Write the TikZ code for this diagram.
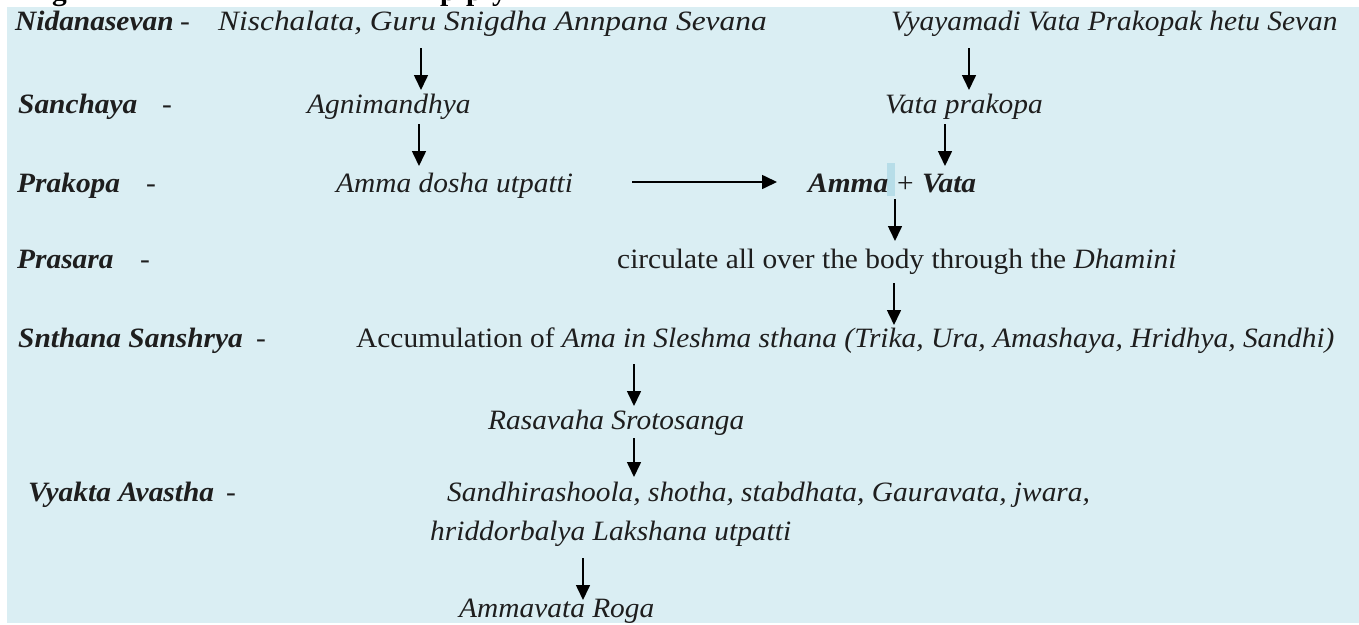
\documentclass[tikz,border=0pt]{standalone}
\usepackage{fontspec}
\usepackage{graphicx}
\setmainfont{Liberation Serif}[FakeStretch=1.05]
\usetikzlibrary{arrows.meta}
\definecolor{bgblue}{HTML}{DAEEF3}
\definecolor{hlblue}{HTML}{B7DDE8}
\definecolor{ink}{HTML}{1E1E1E}
\tikzset{
  base/.style={anchor=base west,inner sep=0pt,text=ink},
  lbl/.style={base,font=\fontsize{28}{32}\selectfont\bfseries\itshape},
  itx/.style={base,font=\fontsize{28}{32}\selectfont\itshape},
  rtx/.style={base,font=\fontsize{28}{32}\selectfont},
  ttl/.style={base,text=black,font=\fontsize{28}{32}\selectfont\bfseries},
  arr/.style={line width=1.6pt,black,-{Triangle[length=15pt,width=14pt]}}
}
\begin{document}
\begin{tikzpicture}[x=1pt,y=-1pt]
\useasboundingbox (0,0) rectangle (1359,624);
\fill[white] (0,0) rectangle (1359,624);
\fill[bgblue] (7,7) rectangle (1359,623);
% cut-off title descenders
\begin{scope}
\clip (0,0) rectangle (1359,7);
\node[ttl] (tg) at (52,0) {g};
\node[ttl] (tp1) at (440,0) {p};
\node[ttl] (tp2) at (466,0) {p};
\node[ttl] (ty) at (492,0) {y};
\end{scope}
% highlight
\fill[hlblue] (887,163) rectangle (895,196);
% row 1
\node[lbl] (l1) at (15,30) {Nidanasevan};
\node[rtx] (d1) at (180,30) {-};
\node[itx] (nis) at (218,30) {\scalebox{1.068}[1]{Nischalata, Guru Snigdha Annpana Sevana}};
\node[itx] (vya) at (891,30) {Vyayamadi Vata Prakopak hetu Sevan};
% row 2
\node[lbl] (l2) at (18,113) {Sanchaya};
\node[rtx] (d2) at (162,113) {-};
\node[itx] (agni) at (307,113) {Agnimandhya};
\node[itx] (vp) at (885,113) {Vata prakopa};
% row 3
\node[lbl] (l3) at (17,192) {Prakopa};
\node[rtx] (d3) at (146,192) {-};
\node[itx] (amd) at (336,192) {Amma dosha utpatti};
\node[lbl] (amma) at (808,192) {Amma};
\node[rtx] (plus) at (897,192) {+};
\node[lbl] (vata) at (922,192) {Vata};
% row 4
\node[lbl] (l4) at (17,268) {Prasara};
\node[rtx] (d4) at (140,268) {-};
\node[rtx] (circ) at (617,268) {circulate all over the body through the \textit{Dhamini}};
% row 5
\node[lbl] (l5) at (18,347) {Snthana Sanshrya};
\node[rtx] (d5) at (256,347) {-};
\node[rtx] (acc) at (356,347) {Accumulation of \textit{Ama in Sleshma sthana (Trika, Ura, Amashaya, Hridhya, Sandhi)}};
% row 6
\node[itx] (ras) at (488,429) {Rasavaha Srotosanga};
% row 7
\node[lbl] (l7) at (28,501) {Vyakta Avastha};
\node[rtx] (d7) at (226,501) {-};
\node[itx] (san) at (447,501) {Sandhirashoola, shotha, stabdhata, Gauravata, jwara,};
\node[itx] (hri) at (430,540) {hriddorbalya Lakshana utpatti};
% row 8
\node[itx] (roga) at (459,617) {Ammavata Roga};
% arrow ends
\coordinate (a1s) at (421,48);  \coordinate (a1e) at (421,90);
\coordinate (b1s) at (969,48);  \coordinate (b1e) at (969,90);
\coordinate (a2s) at (419,124); \coordinate (a2e) at (419,166);
\coordinate (b2s) at (945,124); \coordinate (b2e) at (945,166);
\coordinate (hs) at (632,182);  \coordinate (he) at (777,182);
\coordinate (cs) at (895,199);  \coordinate (ce) at (895,241);
\coordinate (ds) at (894,283);  \coordinate (de) at (894,325);
\coordinate (es) at (634,364);  \coordinate (ee) at (634,406);
\coordinate (fs) at (634,438);  \coordinate (fe) at (634,477);
\coordinate (gs) at (583,558);  \coordinate (ge) at (583,600);
\draw[arr] (a1s) -- (a1e);
\draw[arr] (b1s) -- (b1e);
\draw[arr] (a2s) -- (a2e);
\draw[arr] (b2s) -- (b2e);
\draw[arr] (hs) -- (he);
\draw[arr] (cs) -- (ce);
\draw[arr] (ds) -- (de);
\draw[arr] (es) -- (ee);
\draw[arr] (fs) -- (fe);
\draw[arr] (gs) -- (ge);
\end{tikzpicture}
\end{document}
